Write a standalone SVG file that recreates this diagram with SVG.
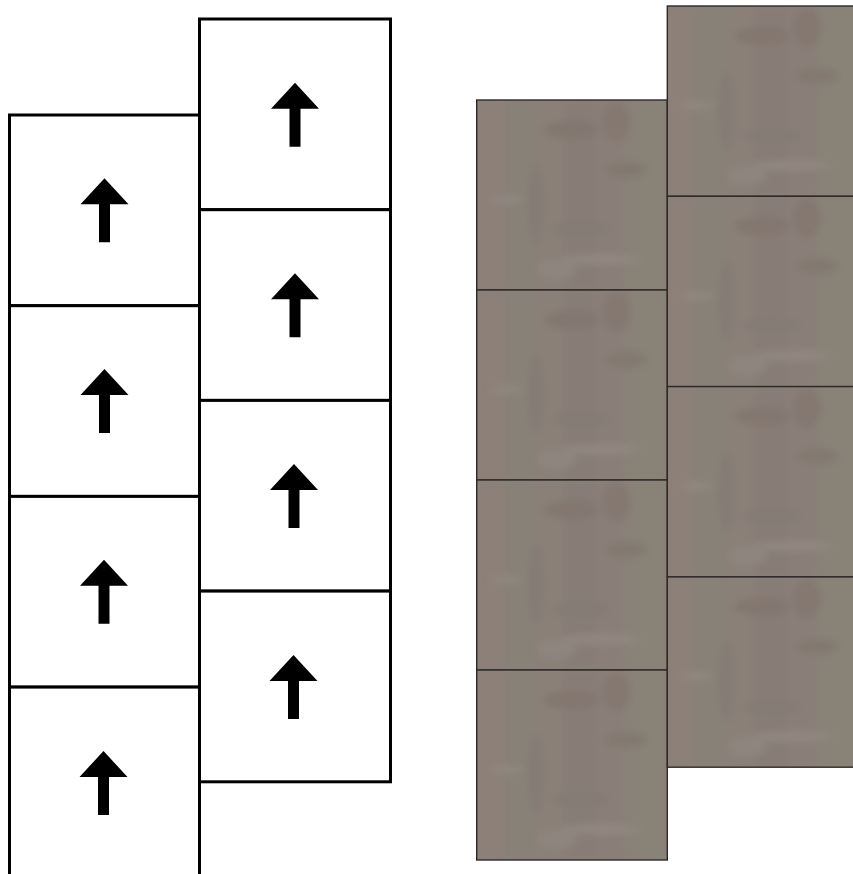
<svg xmlns="http://www.w3.org/2000/svg" xmlns:xlink="http://www.w3.org/1999/xlink" width="853" height="874" viewBox="0 0 853 874">
<style>
.t{fill:#fff;stroke:#000;stroke-width:3}
.a{fill:#000}
.b{fill:none;stroke:#2e2a28;stroke-width:1.4}
</style>
<defs>
<path id="arr" d="M0,-32 L24,-6 L5.5,-6 L5.5,32 L-5.5,32 L-5.5,-6 L-24,-6 Z"/>
<filter id="soft" x="0" y="0" width="1" height="1"><feGaussianBlur stdDeviation="4"/></filter>
<clipPath id="tc"><rect width="191" height="191"/></clipPath>
<symbol id="tex" viewBox="0 0 191 191" width="191" height="191">
<rect width="191" height="191" fill="#8a8078"/>
<g clip-path="url(#tc)" filter="url(#soft)">
<rect x="0" y="0" width="28" height="191" fill="#8c8078"/>
<rect x="28" y="0" width="30" height="191" fill="#878177"/>
<rect x="58" y="0" width="30" height="191" fill="#8a8078"/>
<rect x="88" y="0" width="32" height="191" fill="#877d76"/>
<rect x="120" y="0" width="30" height="191" fill="#8a7f78"/>
<rect x="150" y="0" width="41" height="191" fill="#888277"/>
<ellipse cx="95" cy="30" rx="28" ry="9" fill="#837770"/>
<ellipse cx="140" cy="22" rx="14" ry="20" fill="#847871"/>
<ellipse cx="150" cy="70" rx="22" ry="8" fill="#847971"/>
<ellipse cx="60" cy="105" rx="8" ry="40" fill="#857c74"/>
<ellipse cx="105" cy="130" rx="30" ry="8" fill="#857c75"/>
<ellipse cx="125" cy="160" rx="40" ry="5" fill="#918880"/>
<ellipse cx="30" cy="100" rx="18" ry="4" fill="#918880"/>
<ellipse cx="80" cy="170" rx="20" ry="10" fill="#8e857e"/>
</g>
</symbol>
</defs>
<g id="plan">
<g id="L1"><rect class="t" x="9.5" y="115" width="190" height="190.7"/><use href="#arr" class="a" x="104.5" y="210.3"/></g>
<g id="L2"><rect class="t" x="9.5" y="305.7" width="190" height="190.7"/><use href="#arr" class="a" x="104.5" y="401"/></g>
<g id="L3"><rect class="t" x="9.5" y="496.4" width="190" height="190.7"/><use href="#arr" class="a" x="104" y="591.7"/></g>
<g id="L4"><rect class="t" x="9.5" y="687.1" width="190" height="200"/><use href="#arr" class="a" x="103.5" y="783"/></g>
<g id="R1"><rect class="t" x="199.5" y="19" width="191" height="190.7"/><use href="#arr" class="a" x="295" y="114.8"/></g>
<g id="R2"><rect class="t" x="199.5" y="209.7" width="191" height="190.7"/><use href="#arr" class="a" x="295" y="305.3"/></g>
<g id="R3"><rect class="t" x="199.5" y="400.4" width="191" height="190.7"/><use href="#arr" class="a" x="294" y="496"/></g>
<g id="R4"><rect class="t" x="199.5" y="591.1" width="191" height="190.7"/><use href="#arr" class="a" x="293.5" y="687"/></g>
</g>
<g id="render">
<g id="TL1"><use href="#tex" x="476.7" y="100" width="190.6" height="190"/><rect class="b" x="476.7" y="100" width="190.6" height="190"/></g>
<g id="TL2"><use href="#tex" x="476.7" y="290" width="190.6" height="190"/><rect class="b" x="476.7" y="290" width="190.6" height="190"/></g>
<g id="TL3"><use href="#tex" x="476.7" y="480" width="190.6" height="190"/><rect class="b" x="476.7" y="480" width="190.6" height="190"/></g>
<g id="TL4"><use href="#tex" x="476.7" y="670" width="190.6" height="190"/><rect class="b" x="476.7" y="670" width="190.6" height="190"/></g>
<g id="TR1"><use href="#tex" x="667.3" y="6" width="190.6" height="190.3"/><rect class="b" x="667.3" y="6" width="190.6" height="190.3"/></g>
<g id="TR2"><use href="#tex" x="667.3" y="196.3" width="190.6" height="190.3"/><rect class="b" x="667.3" y="196.3" width="190.6" height="190.3"/></g>
<g id="TR3"><use href="#tex" x="667.3" y="386.6" width="190.6" height="190.3"/><rect class="b" x="667.3" y="386.6" width="190.6" height="190.3"/></g>
<g id="TR4"><use href="#tex" x="667.3" y="576.9" width="190.6" height="190.3"/><rect class="b" x="667.3" y="576.9" width="190.6" height="190.3"/></g>
</g>
</svg>
